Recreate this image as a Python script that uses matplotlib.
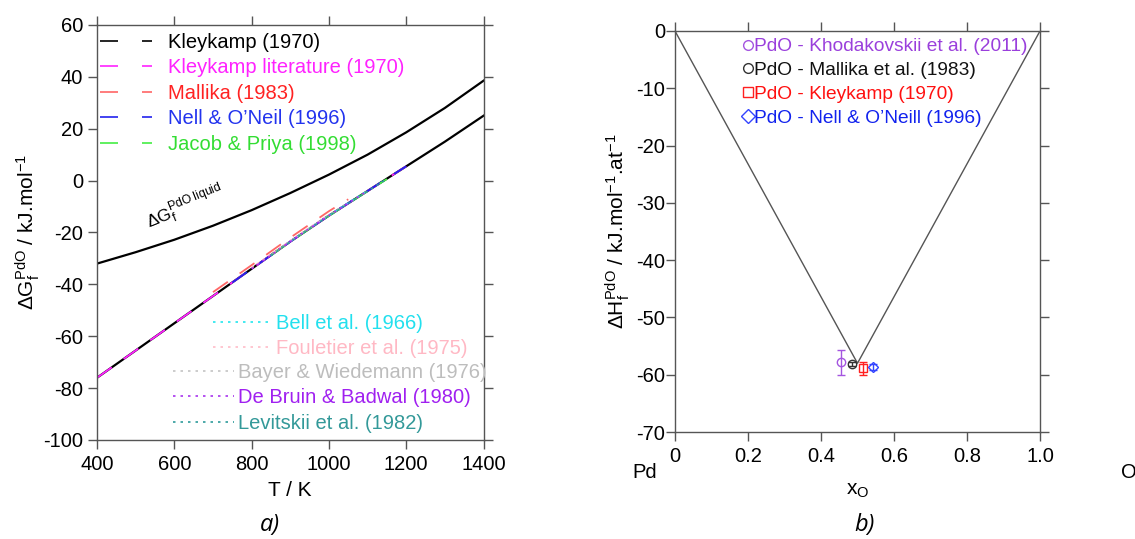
import matplotlib
matplotlib.use('Agg')
import matplotlib.pyplot as plt
from matplotlib.lines import Line2D

plt.rcParams['font.family'] = ['Liberation Sans', 'DejaVu Sans']
plt.rcParams['mathtext.fontset'] = 'custom'
plt.rcParams['mathtext.rm'] = 'Liberation Sans'
plt.rcParams['mathtext.it'] = 'Liberation Sans:italic'
plt.rcParams['axes.unicode_minus'] = False

# ---- panel a: Gibbs energy of formation of PdO ----
T_calc = [400, 500, 600, 700, 800, 900, 1000, 1100, 1200, 1300, 1400]
G_solid = [-76, -65.5, -55, -44.5, -34, -23.5, -13.5, -4, 5.5, 15, 25]
G_liquid = [-32, -27.6, -22.8, -17.4, -11.4, -4.8, 2.3, 10, 18.6, 28, 38.5]

T_lit = [400, 500, 600, 700, 800, 900, 1000, 1100, 1200]
G_lit = [-76, -65.5, -55, -44.5, -34, -23.5, -13.5, -4, 5.5]
T_mallika = [700, 750, 800, 850, 900, 950, 1000, 1050]
G_mallika = [-43, -37.8, -32.6, -27.3, -22, -16.9, -11.8, -7.2]
T_nell = [750, 800, 850, 900, 950, 1000, 1050, 1100, 1150, 1200]
G_nell = [-39.3, -34, -28.8, -23.5, -18.4, -13.5, -8.7, -4, 0.8, 5.5]
T_jacob = [850, 900, 950, 1000, 1050, 1100, 1150]
G_jacob = [-28.8, -23.6, -18.5, -13.6, -8.8, -4.1, 0.6]

T_bell = [900, 950, 1000, 1050, 1100]
G_bell = [-23.4, -18.3, -13.4, -8.6, -3.9]
T_foul = [800, 850, 900, 950, 1000]
G_foul = [-33.6, -28.4, -23.2, -18.1, -13.1]
T_bayer = [850, 900, 950, 1000, 1050]
G_bayer = [-28.7, -23.4, -18.3, -13.3, -8.5]
T_debruin = [800, 850, 900, 950, 1000, 1050, 1100]
G_debruin = [-34, -28.8, -23.5, -18.4, -13.5, -8.7, -4]
T_levit = [850, 900, 950, 1000, 1050, 1100, 1150]
G_levit = [-28.9, -23.6, -18.5, -13.6, -8.8, -4.1, 0.7]

dashed_series = [
    ('Kleykamp literature (1970)', '#ff22ff', '#ff22ff', T_lit, G_lit),
    ('Mallika (1983)', '#ff6666', '#ff2222', T_mallika, G_mallika),
    ("Nell & O\u2019Neil (1996)", '#2222ee', '#2233ee', T_nell, G_nell),
    ('Jacob & Priya (1998)', '#44ee44', '#33dd33', T_jacob, G_jacob),
]
dotted_series = [
    ('Bell et al. (1966)', '#22e6ee', T_bell, G_bell),
    ('Fouletier et al. (1975)', '#ffbcc8', T_foul, G_foul),
    ('Bayer & Wiedemann (1976)', '#c4c4c4', T_bayer, G_bayer),
    ('De Bruin & Badwal (1980)', '#a833ee', T_debruin, G_debruin),
    ('Levitskii et al. (1982)', '#2e9b9b', T_levit, G_levit),
]
dotted_textcolors = ['#22e0ee', '#ffb8c4', '#bdbdbd', '#a020f0', '#339999']

# ---- panel b: enthalpy of formation of PdO ----
x_hull = [0, 0.5, 1.0]
H_hull = [0, -58, 0]
b_labels = ['PdO - Khodakovskii et al. (2011)', 'PdO - Mallika et al. (1983)',
            'PdO - Kleykamp (1970)', "PdO - Nell & O\u2019Neill (1996)"]
b_x = [0.455, 0.484, 0.514, 0.543]
b_H = [-57.8, -58.1, -58.9, -58.6]
b_err = [2.2, 0.4, 1.2, 0.5]
b_markers = ['o', 'o', 's', 'D']
b_colors = ['#a455e0', '#333333', '#ff2020', '#3344ff']
b_textcolors = ['#9a3fdc', '#111111', '#ff1010', '#1122ee']

FS = 14.5
FS_B = 13.8
AXC = '#555555'


def style_axes(ax, pad):
    for sp in ax.spines.values():
        sp.set_color(AXC)
        sp.set_linewidth(1.0)
    ax.tick_params(which='both', direction='out', length=6.5, width=1.0,
                   color=AXC, labelsize=FS, top=True, right=True,
                   labeltop=False, labelright=False)
    ax.tick_params(axis='y', pad=pad)
    ax.tick_params(axis='x', pad=4)


fig = plt.figure(figsize=(11.35, 5.39), dpi=100)

# panel a
axa = fig.add_axes([0.0855, 0.1837, 0.3405, 0.770])
axa.plot(T_calc, G_liquid, color='black', lw=1.6)
axa.plot(T_calc, G_solid, color='black', lw=1.6)
for lab, lc, tc, tt, gg in dashed_series:
    axa.plot(tt, gg, color=lc, lw=1.3, dashes=(10, 8))
for lab, lc, tt, gg in dotted_series:
    axa.plot(tt, gg, color=lc, lw=1.2, dashes=(1.5, 2.5))

axa.set_xlim(400, 1400)
axa.set_ylim(-100, 60)
axa.set_xticks(range(400, 1401, 200))
axa.set_yticks(range(-100, 61, 20))
style_axes(axa, 3.5)
axa.set_xlabel('T / K', fontsize=15, labelpad=5)
axa.set_ylabel(r'$\Delta$G$_\mathregular{f}^\mathregular{PdO}$ / kJ.mol$^\mathregular{-1}$',
               fontsize=15, labelpad=1)
axa.text(535, -18.5, r'$\Delta$G$_\mathregular{f}^\mathregular{PdO\ liquid}$',
         fontsize=12.5, rotation=22, rotation_mode='anchor', ha='left', va='baseline')

top_handles = [Line2D([], [], color='black', lw=1.2, dashes=(10.8, 14.4))]
top_labels = ['Kleykamp (1970)']
top_colors = ['black']
for lab, lc, tc, tt, gg in dashed_series:
    top_handles.append(Line2D([], [], color=lc, lw=1.2, dashes=(10.8, 14.4)))
    top_labels.append(lab)
    top_colors.append(tc)
leg1 = axa.legend(top_handles, top_labels, loc='upper left',
                  bbox_to_anchor=(0.008, 0.981), frameon=False, fontsize=FS,
                  handlelength=2.6, handletextpad=0.75, labelspacing=0.32,
                  borderpad=0, borderaxespad=0, labelcolor=top_colors)
axa.add_artist(leg1)

dot_h = [Line2D([], [], color=c, lw=1.2, dashes=(1.5, 3.0)) for _, c, _, _ in dotted_series]
dot_l = [s[0] for s in dotted_series]
leg2 = axa.legend(dot_h[:2], dot_l[:2], loc='upper left',
                  bbox_to_anchor=(0.3005, 0.3036), frameon=False, fontsize=FS,
                  handlelength=2.9, handletextpad=0.2, labelspacing=0.32,
                  borderpad=0, borderaxespad=0, labelcolor=dotted_textcolors[:2])
axa.add_artist(leg2)
axa.legend(dot_h[2:], dot_l[2:], loc='upper left',
           bbox_to_anchor=(0.197, 0.1855), frameon=False, fontsize=FS,
           handlelength=3.0, handletextpad=0.2, labelspacing=0.32,
           borderpad=0, borderaxespad=0, labelcolor=dotted_textcolors[2:])

# panel b
axb = fig.add_axes([0.5947, 0.1985, 0.3216, 0.744])
axb.plot(x_hull, H_hull, color='#555555', lw=1.0)
for i in range(len(b_x)):
    axb.errorbar(b_x[i], b_H[i], yerr=b_err[i], marker=b_markers[i],
                 mfc='none', mec=b_colors[i], ecolor=b_colors[i],
                 ms=6 if b_markers[i] != 'D' else 5.5, mew=1.0,
                 elinewidth=1.0, capsize=3, capthick=1.0, ls='none')
axb.set_xlim(0, 1.0)
axb.set_ylim(-70, 0)
axb.set_xticks([0, 0.2, 0.4, 0.6, 0.8, 1.0])
axb.set_xticklabels(['0', '0.2', '0.4', '0.6', '0.8', '1.0'])
axb.set_yticks(range(-70, 1, 10))
style_axes(axb, 0.5)
axb.set_xlabel(r'x$_\mathregular{O}$', fontsize=15, labelpad=11)
axb.set_ylabel(r'$\Delta$H$_\mathregular{f}^\mathregular{PdO}$ / kJ.mol$^\mathregular{-1}$.at$^\mathregular{-1}$',
               fontsize=15, labelpad=3)
axb.text(-0.082, -0.1, 'Pd', transform=axb.transAxes, fontsize=FS,
         ha='center', va='center')
axb.text(1.222, -0.1, 'O', transform=axb.transAxes, fontsize=FS,
         ha='left', va='center')

b_handles = []
for i in range(len(b_x)):
    b_handles.append(Line2D([], [], marker=b_markers[i], mfc='none', mec=b_colors[i],
                            ls='none', ms=7 if b_markers[i] != 'D' else 7.5, mew=1.0))
axb.legend(b_handles, b_labels, loc='upper left', bbox_to_anchor=(0.187, 0.9825),
           frameon=False, fontsize=FS_B, handlelength=0.5, handletextpad=0.05,
           labelspacing=0.33, borderpad=0, borderaxespad=0,
           labelcolor=b_textcolors)

fig.text(0.238, 0.026, 'a)', fontsize=17, style='italic', family='Open Sans',
         ha='center', va='center')
fig.text(0.762, 0.026, 'b)', fontsize=17, style='italic', family='Open Sans',
         ha='center', va='center')

fig.savefig('out.png', dpi=100)
